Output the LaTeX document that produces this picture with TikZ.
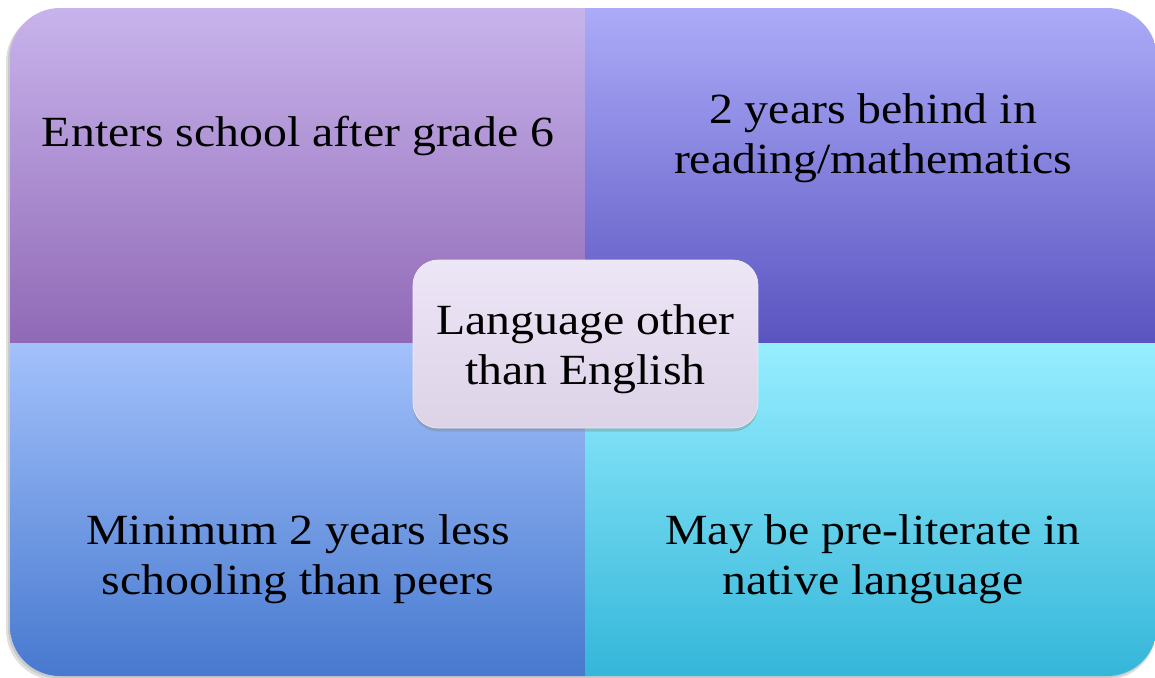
\documentclass[tikz,border=0pt]{standalone}
\usepackage{fontspec}
\setmainfont[FakeStretch=1.11]{Liberation Serif}
\usepackage{xcolor}
\usetikzlibrary{positioning, calc, shadows, backgrounds}

\definecolor{tlTop}{HTML}{C8B4EC}
\definecolor{tlBot}{HTML}{9069B6}
\definecolor{trTop}{HTML}{ABABF8}
\definecolor{trBot}{HTML}{5A54C0}
\definecolor{blTop}{HTML}{A3C1FB}
\definecolor{blBot}{HTML}{4779CF}
\definecolor{brTop}{HTML}{97EEFF}
\definecolor{brBot}{HTML}{34B6D9}
\definecolor{ctTop}{HTML}{EDE6F7}
\definecolor{ctBot}{HTML}{DCD3E6}

\begin{document}
\begin{tikzpicture}[
    x=0.02cm, y=-0.02cm,
    quadtext/.style={align=center, font=\fontsize{24.5}{28.5}\selectfont, text=black},
    hub/.style={rectangle, rounded corners=0.5cm, draw=white!85!gray, line width=0.4pt, top color=ctTop, bottom color=ctBot, align=center, minimum width=6.9cm, minimum height=3.36cm, font=\fontsize{24.5}{28.5}\selectfont, drop shadow={shadow xshift=0pt, shadow yshift=-2pt, opacity=0.35}}
]
    \useasboundingbox (0,0) rectangle (1155,677);
    % soft shadow behind the panel
    \fill [black, opacity=0.12, rounded corners=1cm] (6,12) rectangle (1156,680);
    \fill [black, opacity=0.10, rounded corners=1cm] (8,10) rectangle (1156,678);
    % four shaded quarters, clipped to the panel
    \begin{scope}
        \clip [rounded corners=1cm] (10,8) rectangle (1157,676);
        \shade [top color=tlTop, bottom color=tlBot] (10,8) rectangle (585,343);
        \shade [top color=trTop, bottom color=trBot] (585,8) rectangle (1157,343);
        \shade [top color=blTop, bottom color=blBot] (10,343) rectangle (585,676);
        \shade [top color=brTop, bottom color=brBot] (585,343) rectangle (1157,676);
    \end{scope}

    \node [quadtext] (entry) at (298,136) {Enters school after grade 6};
    \node [quadtext] (behind) at (873,138) {2 years behind in\\reading/mathematics};
    \node [quadtext] (schooling) at (298,559) {Minimum 2 years less\\schooling than peers};
    \node [quadtext] (literate) at (873,559) {May be pre-literate in\\native language};

    \node [hub] (lang) at (585.5,344) {\raisebox{-3pt}[\height][\depth]{\begin{tabular}{@{}c@{}}Language other\\than English\end{tabular}}};
\end{tikzpicture}
\end{document}
